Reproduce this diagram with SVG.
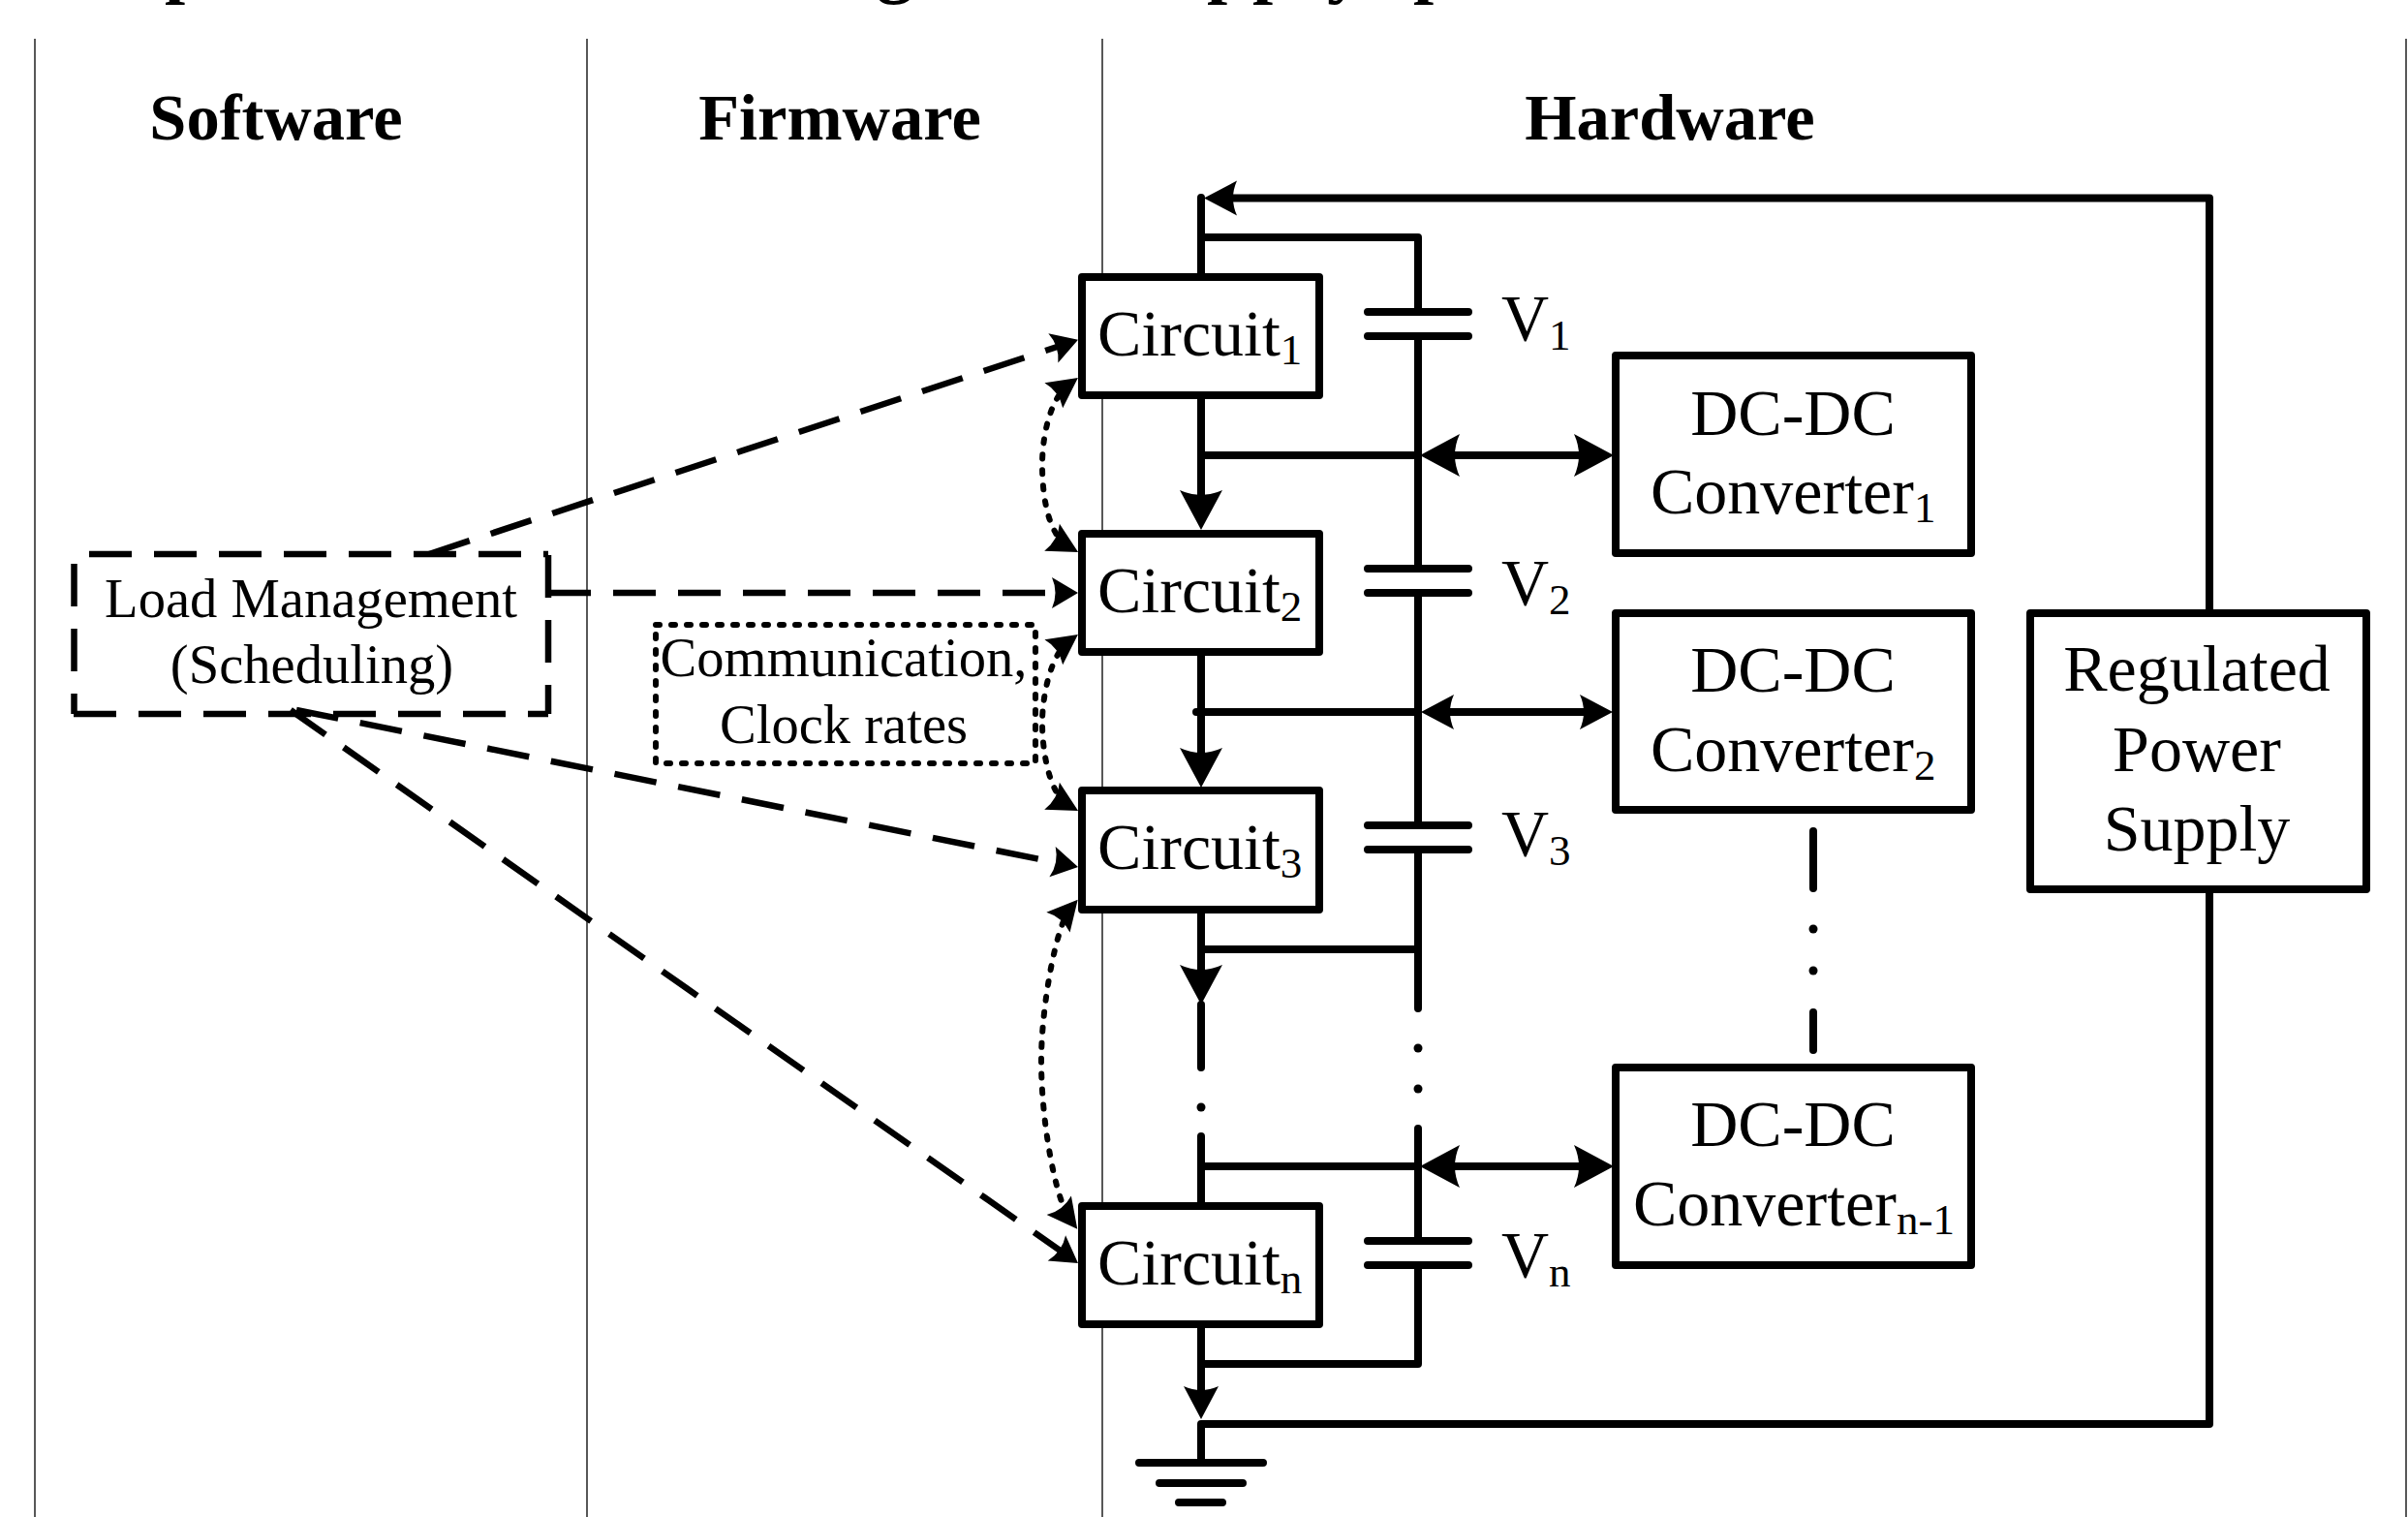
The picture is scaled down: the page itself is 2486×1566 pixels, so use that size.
<svg xmlns="http://www.w3.org/2000/svg" width="2486" height="1566" viewBox="0 0 2486 1566">
<style>
text{font-family:"Liberation Serif","Times New Roman",serif;fill:#000}
.h{font-size:68.500px;font-weight:bold;text-anchor:middle}
.t{font-size:68px}
.m{text-anchor:middle}
.l{font-size:56.600px;text-anchor:middle}
.s{font-size:45px}
.box{fill:#fff;stroke:#000;stroke-width:8;stroke-linejoin:round}
.w{fill:none;stroke:#000;stroke-width:8;stroke-linecap:round;stroke-linejoin:round}
.d{fill:none;stroke:#000;stroke-width:6.500;stroke-dasharray:44 23;stroke-linecap:butt}
.o{fill:none;stroke:#000;stroke-width:6;stroke-dasharray:4 12;stroke-linecap:round}
.sw{fill:none;stroke:#222;stroke-width:1.5}
.dot{fill:#000}
</style>
<defs>
<marker id="big" markerUnits="userSpaceOnUse" markerWidth="42" markerHeight="44" refX="26" refY="22" orient="auto-start-reverse" overflow="visible"><path d="M0,0L41,22L0,44Q10,22 0,0Z"/></marker>
<marker id="med" markerUnits="userSpaceOnUse" markerWidth="34" markerHeight="36" refX="19" refY="18" orient="auto-start-reverse" overflow="visible"><path d="M0,0L34,18L0,36Q8,18 0,0Z"/></marker>
<marker id="slim" markerUnits="userSpaceOnUse" markerWidth="28" markerHeight="32" refX="17" refY="16" orient="auto-start-reverse" overflow="visible"><path d="M0,0L27,16L0,32Q7,16 0,0Z"/></marker>
<marker id="dotted" markerUnits="userSpaceOnUse" markerWidth="32" markerHeight="32" refX="20" refY="16" orient="auto-start-reverse" overflow="visible"><path d="M0,0L31,16L0,32Q7,16 0,0Z"/></marker>
</defs>

<g id="title-fragment" font-weight="bold" font-size="76">
<text x="170" y="-11">p</text><text x="905" y="-11">g</text><text x="1246" y="-11">p</text><text x="1293" y="-11">p</text><text x="1370" y="-11">y</text><text x="1459" y="-11">p</text>
</g>

<g id="swimlanes">
<path class="sw" d="M36,40V1566M606,40V1566"/>
<path class="sw" stroke-width="1" d="M1138,40V1566M2484,40V1566"/>
<text class="h" x="285" y="144">Software</text>
<text class="h" x="867" y="144">Firmware</text>
<text class="h" x="1724" y="144">Hardware</text>
</g>

<g id="connectors">
<path class="w" d="M2281,633V204.500H1258" marker-end="url(#med)"/>
<path class="w" d="M1240,204V286M1240,245H1464V322M1464,347V587M1464,612V852M1464,877V1041M1464,980H1240M1464,1165V1280M1464,1306V1408H1240"/>
<path class="w" d="M1240,408V532" marker-end="url(#big)"/>
<path class="w" d="M1240,673V798" marker-end="url(#big)"/>
<path class="w" d="M1240,939V1022" marker-end="url(#big)"/>
<path class="w" d="M1240,1037V1102M1240,1173V1245M1240,470H1464M1235,735H1464M1240,1204H1464"/>
<path class="w" d="M1240,1367V1450" marker-end="url(#med)"/>
<path class="w" d="M2281,918V1470H1240V1510"/>
<path class="w" d="M1176,1510H1304M1197,1531H1283M1217,1551H1262"/>
<circle class="dot" cx="1240" cy="1143" r="4.500"/>
<circle class="dot" cx="1464" cy="1082" r="4.500"/>
<circle class="dot" cx="1464" cy="1124" r="4.500"/>
<path class="w" d="M1481,470H1651" marker-start="url(#big)" marker-end="url(#big)"/>
<path class="w" d="M1482,735H1650" marker-start="url(#med)" marker-end="url(#med)"/>
<path class="w" d="M1481,1204H1651" marker-start="url(#big)" marker-end="url(#big)"/>
<path class="w" d="M1872,858V917M1872,1045V1084"/>
<circle class="dot" cx="1872" cy="959" r="4.500"/>
<circle class="dot" cx="1872" cy="1002" r="4.500"/>
<path class="d" d="M443,572L1103.500,354" marker-end="url(#slim)"/>
<path class="d" d="M566,612H1103" marker-end="url(#slim)"/>
<path class="d" d="M306,733L1103.200,893" marker-end="url(#slim)"/>
<path class="d" d="M300,733L1104.800,1298.200" marker-end="url(#slim)"/>
<path class="o" d="M1104,396.500C1084,411 1076,450 1076,480C1076,515 1083,553 1103.500,564.500" marker-start="url(#dotted)" marker-end="url(#dotted)"/>
<path class="o" d="M1104,661.500C1084,676 1076,720 1076,746C1076,775 1083,820 1103.500,831.500" marker-start="url(#dotted)" marker-end="url(#dotted)"/>
<path class="o" d="M1105.500,937C1090,955 1075,1040 1075,1095C1075,1160 1090,1240 1105.500,1260" marker-start="url(#dotted)" marker-end="url(#dotted)"/>
</g>

<g id="load-management">
<path class="d" stroke-dashoffset="-16" d="M76,572H566"/>
<path class="d" stroke-dashoffset="-10" d="M76.500,572V737"/>
<path class="d" d="M566,573V737"/>
<path class="d" d="M76,737H566"/>
<text class="l" x="321" y="637">Load Management</text>
<text class="l" x="322" y="705">(Scheduling)</text>
</g>

<g id="comm-clock">
<rect class="o" x="677" y="645" width="392" height="143"/>
<text class="l" x="871" y="698">Communication,</text>
<text class="l" x="871" y="767">Clock rates</text>
</g>

<g id="circuit-1"><rect class="box" x="1117" y="286" width="245" height="122"/><text class="t" x="1133" y="367">Circuit<tspan class="s" dy="9">1</tspan></text></g>
<g id="circuit-2"><rect class="box" x="1117" y="551" width="245" height="122"/><text class="t" x="1133" y="632">Circuit<tspan class="s" dy="9">2</tspan></text></g>
<g id="circuit-3"><rect class="box" x="1117" y="816" width="245" height="123"/><text class="t" x="1133" y="897">Circuit<tspan class="s" dy="9">3</tspan></text></g>
<g id="circuit-n"><rect class="box" x="1117" y="1245" width="245" height="122"/><text class="t" x="1133" y="1326">Circuit<tspan class="s" dy="9">n</tspan></text></g>

<g id="cap-1"><path class="w" d="M1412,322H1516M1412,347H1516"/><text class="t" x="1550" y="351">V<tspan class="s" dy="10">1</tspan></text></g>
<g id="cap-2"><path class="w" d="M1412,587H1516M1412,612H1516"/><text class="t" x="1550" y="624">V<tspan class="s" dy="10">2</tspan></text></g>
<g id="cap-3"><path class="w" d="M1412,852H1516M1412,877H1516"/><text class="t" x="1550" y="883">V<tspan class="s" dy="10">3</tspan></text></g>
<g id="cap-n"><path class="w" d="M1412,1281H1516M1412,1306H1516"/><text class="t" x="1550" y="1318">V<tspan class="s" dy="10">n</tspan></text></g>

<g id="dcdc-1"><rect class="box" x="1668" y="367" width="367" height="204"/><text class="t m" x="1851" y="449">DC-DC</text><text class="t" x="1704" y="530">Converter<tspan class="s" dy="9">1</tspan></text></g>
<g id="dcdc-2"><rect class="box" x="1668" y="633" width="367" height="203"/><text class="t m" x="1851" y="714">DC-DC</text><text class="t" x="1704" y="796">Converter<tspan class="s" dy="9">2</tspan></text></g>
<g id="dcdc-n-1"><rect class="box" x="1668" y="1102" width="367" height="204"/><text class="t m" x="1851" y="1183">DC-DC</text><text class="t" x="1686" y="1265">Converter<tspan class="s" dy="9">n-1</tspan></text></g>

<g id="power-supply"><rect class="box" x="2096" y="633" width="347" height="285"/>
<text class="t m" x="2268" y="713">Regulated</text><text class="t m" x="2268" y="796">Power</text><text class="t m" x="2268" y="878">Supply</text></g>
</svg>
